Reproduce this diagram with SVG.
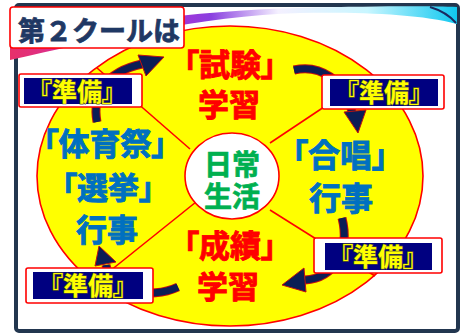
<svg xmlns="http://www.w3.org/2000/svg" width="467" height="334" viewBox="0 0 467 334">
<defs>
<linearGradient id="sw" x1="0" y1="0" x2="1" y2="0">
<stop offset="0" stop-color="#e8306a"/>
<stop offset="0.3" stop-color="#c02ad0"/>
<stop offset="0.45" stop-color="#8a40e0"/>
<stop offset="0.6" stop-color="#f4f0ff"/>
<stop offset="0.8" stop-color="#c8f6ff"/>
<stop offset="1" stop-color="#10c8f0"/>
</linearGradient>
<style>
.jp{font-family:"Noto Sans CJK JP","Noto Sans CJK SC",sans-serif;font-weight:bold;text-anchor:middle;font-feature-settings:"palt";}
.red{fill:#ff0000;stroke:#ff0000;stroke-width:0.9;}
.blue{fill:#0070c0;stroke:#0070c0;stroke-width:0.9;}
.green{fill:#00b050;stroke:#00b050;stroke-width:0.7;}
.prep{fill:#ffff00;stroke:#5a5a20;stroke-width:1.2;paint-order:stroke;font-size:25px;}
.box{fill:#ffffff;stroke:#ff0000;stroke-width:1.6;}
.navy{fill:#000080;}
.div{stroke:#ff0000;stroke-width:1.6;fill:none;}
.shaftO{stroke:#c01010;stroke-width:9;fill:none;}
.shaft{stroke:#0b1e55;stroke-width:7;fill:none;}
.head{fill:#0b1e55;stroke:#c01010;stroke-width:1;stroke-linejoin:round;}
</style>
</defs>
<rect x="0" y="0" width="467" height="334" fill="#ffffff"/>
<g id="frame">
<rect x="16" y="5" width="442" height="326" rx="3" fill="#ffffff" stroke="#22364f" stroke-width="4"/>
</g>
<g id="swoosh">
<path d="M10,38 C 90,28 190,10 300,8 C 380,6 430,6 457,7 L 457,24 C 420,14 360,12 300,13 C 200,16 100,40 10,60 Z" fill="url(#sw)"/>
<path d="M430,7 C 440,10 450,16 456,23" stroke="#1a2a60" stroke-width="2" fill="none"/>
</g>
<g id="cycle">
<ellipse cx="230" cy="176" rx="193" ry="150" fill="#ffff00" stroke="#ff0000" stroke-width="1.6"/>
</g>
<g id="dividers">
<line class="div" x1="190" y1="149" x2="97" y2="68"/>
<line class="div" x1="270" y1="143" x2="372" y2="75"/>
<line class="div" x1="270" y1="210" x2="375" y2="276"/>
<line class="div" x1="196" y1="202" x2="95" y2="283"/>
</g>
<g id="center">
<ellipse cx="232" cy="176" rx="47" ry="43" fill="#ffffff" stroke="#ff0000" stroke-width="1.6"/>
<text class="jp green" x="232" y="175" font-size="28">日常</text>
<text class="jp green" x="232" y="207" font-size="28">生活</text>
</g>
<g id="exam">
<text class="jp red" x="230" y="76" font-size="31">「試験」</text>
<text class="jp red" x="229" y="116" font-size="31">学習</text>
</g>
<g id="chorus">
<text class="jp blue" x="340" y="167" font-size="32">「合唱」</text>
<text class="jp blue" x="341" y="210" font-size="32">行事</text>
</g>
<g id="grades">
<text class="jp red" x="230" y="257" font-size="31">「成績」</text>
<text class="jp red" x="228" y="298" font-size="31">学習</text>
</g>
<g id="sports">
<text class="jp blue" x="105" y="155" font-size="31">「体育祭」</text>
<text class="jp blue" x="108" y="199" font-size="31">「選挙」</text>
<text class="jp blue" x="107" y="241" font-size="31">行事</text>
</g>
<g id="connectors">
<path class="shaftO" d="M97,122 C 92,95 105,72 142,64"/>
<path class="shaft" d="M97,122 C 92,95 105,72 142,64"/>
<polygon class="head" points="138,55 164,57 146,76"/>
<path class="shaftO" d="M294,70 C 320,64 345,80 352,112"/>
<path class="shaft" d="M294,70 C 320,64 345,80 352,112"/>
<polygon class="head" points="344,112 366,110 358,133"/>
<path class="shaftO" d="M342,218 C 350,250 335,278 305,280"/>
<path class="shaft" d="M342,218 C 350,250 335,278 305,280"/>
<polygon class="head" points="304,268 306,292 282,285"/>
<path class="shaftO" d="M178,287 C 150,300 110,292 106,265"/>
<path class="shaft" d="M178,287 C 150,300 110,292 106,265"/>
<polygon class="head" points="95,266 116,262 99,246"/>
</g>
<g id="prep-tl">
<rect class="box" x="19" y="74" width="123" height="33" rx="2"/>
<rect class="navy" x="24" y="78" width="108" height="26"/>
<text class="jp prep" x="77" y="101">『準備』</text>
</g>
<g id="prep-tr">
<rect class="box" x="322" y="75" width="122" height="34" rx="2"/>
<rect class="navy" x="330" y="79" width="108" height="27"/>
<text class="jp prep" x="384" y="102">『準備』</text>
</g>
<g id="prep-br">
<rect class="box" x="314" y="238" width="128" height="35" rx="2"/>
<rect class="navy" x="325" y="243" width="107" height="27"/>
<text class="jp prep" x="378" y="266">『準備』</text>
</g>
<g id="prep-bl">
<rect class="box" x="26" y="268" width="127" height="35" rx="2"/>
<rect class="navy" x="33" y="272" width="110" height="27"/>
<text class="jp prep" x="88" y="295">『準備』</text>
</g>
<g id="title">
<rect class="box" x="10" y="7" width="174" height="41" rx="3"/>
<text x="18" y="41" font-family="Noto Sans CJK JP, sans-serif" font-weight="bold" font-size="27" fill="#1f3864" stroke="#1f3864" stroke-width="0.8">第２クールは</text>
</g>
</svg>
